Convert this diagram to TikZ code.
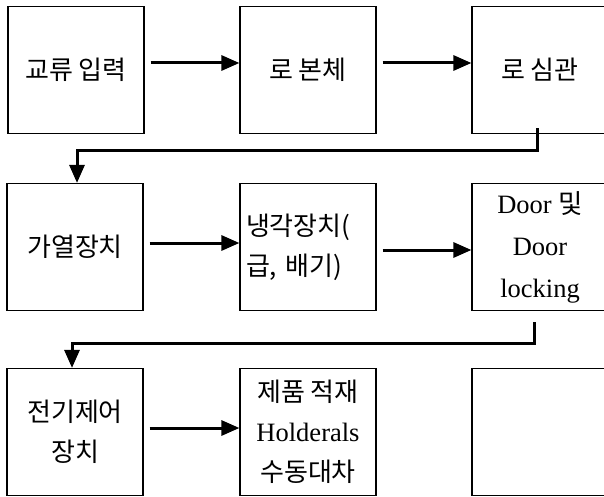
\documentclass[tikz,border=0pt]{standalone}
\usepackage{fontspec}
\setmainfont{Liberation Serif}
\newfontfamily\kr{Noto Sans CJK KR}
\usetikzlibrary{arrows.meta}

\tikzset{
    blk/.style = {draw, line width=1.2pt, minimum width=136pt, minimum height=127pt,
                  inner sep=0pt, align=center, font=\kr\fontsize{26}{40}\selectfont},
    flow/.style = {line width=3pt, -{Triangle[length=18pt,width=15pt]}, shorten <=6pt},
}

\begin{document}
\begin{tikzpicture}[x=1pt, y=-1pt]
    \useasboundingbox (0,0) rectangle (604,497);

    % row 1
    \node[blk] (AC)   at (76,70)  {교류 입력};
    \node[blk] (Body) at (308,70) {로 본체};
    \node[blk] (Tube) at (540,70) {로 심관};

    % row 2
    \node[blk] (Heat) at (75,247)  {가열장치};
    \node[blk, align=left, text width=124pt] (Cool) at (308,247) {냉각장치(\\급, 배기)};
    \node[blk, font=\rmfamily\fontsize{26.5}{42}\selectfont] (Door) at (540,247)
        {Door {\kr 및}\\Door\\locking};

    % row 3
    \node[blk] (Ctrl) at (75,432)  {전기제어\\장치};
    \node[blk] (Load) at (308,432) {제품 적재\\{\rmfamily\fontsize{26.5}{40}\selectfont Holderals}\\수동대차};
    \node[blk] (Last) at (540,432) {};

    \draw[flow] ([yshift=7pt]AC.east) -- ([yshift=7pt]Body.west);
    \draw[flow] ([yshift=7pt]Body.east) -- ([yshift=7pt]Tube.west);
    \draw[flow, shorten <=-6pt] ([xshift=-3pt]Tube.south) -- ++(0,16) -| ([xshift=2pt]Heat.north);

    \draw[flow] ([yshift=4pt]Heat.east) -- ([yshift=4pt]Cool.west);
    \draw[flow] ([yshift=-3pt]Cool.east) -- ([yshift=-3pt]Door.west);
    \draw[flow, shorten <=11pt] ([xshift=-6pt]Door.south) -- ++(0,32) -| ([xshift=-3pt]Ctrl.north);

    \draw[flow] ([yshift=4pt]Ctrl.east) -- ([yshift=4pt]Load.west);
\end{tikzpicture}
\end{document}
